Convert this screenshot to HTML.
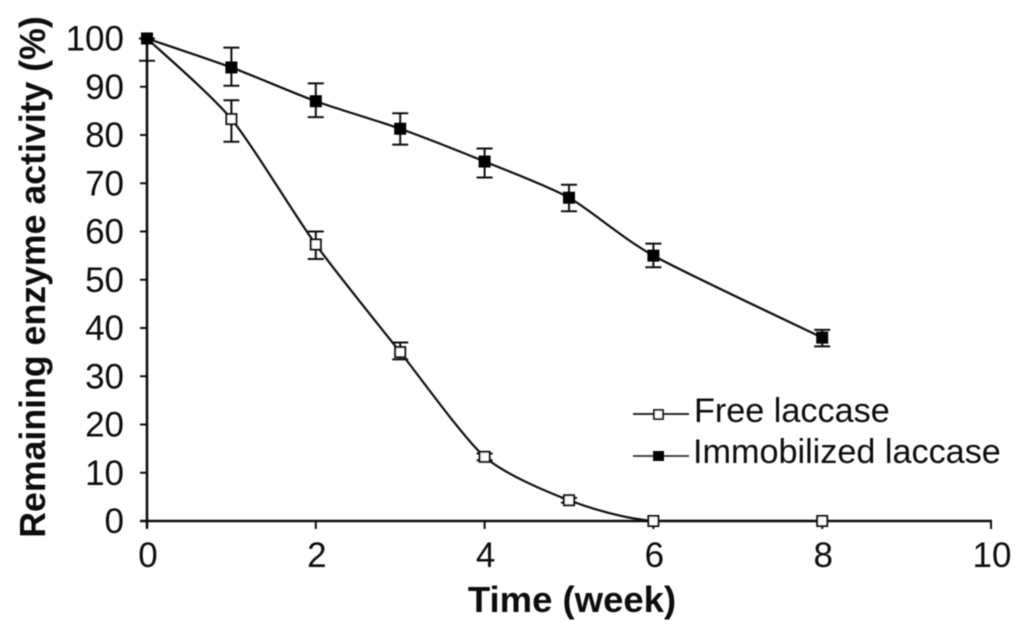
<!DOCTYPE html>
<html>
<head>
<meta charset="utf-8">
<style>
html,body{margin:0;padding:0;background:#fff;width:1024px;height:628px;overflow:hidden}
svg{display:block}
text{font-family:"Liberation Sans",sans-serif;fill:#0c0c0c}
</style>
</head>
<body>
<svg id="chart" width="1024" height="628" viewBox="0 0 1024 628" xmlns="http://www.w3.org/2000/svg">
<defs><filter id="soft" x="-5%" y="-5%" width="110%" height="110%"><feGaussianBlur stdDeviation="0.55"/></filter></defs>
<g id="root" filter="url(#soft)">
<text transform="translate(45,277) rotate(-90)" text-anchor="middle" font-size="35.7" font-weight="bold">Remaining enzyme activity (%)</text>
<text x="572" y="612" text-anchor="middle" font-size="36.5" font-weight="bold">Time (week)</text>
<g id="plot"></g>
<g>
<g>
<line x1="633" x2="689" y1="414" y2="414" stroke="#111" stroke-width="1.8"/>
<rect x="654" y="410" width="9" height="9" fill="#fff" stroke="#111" stroke-width="1.8"/>
<text x="694" y="422" font-size="34.2">Free laccase</text>
</g>
<g>
<line x1="633" x2="689" y1="456" y2="456" stroke="#333" stroke-width="1.8"/>
<rect x="653" y="451" width="11" height="10" fill="#000"/>
<text x="693" y="463" font-size="34.2">Immobilized laccase</text>
</g>
</g>
</g>
</svg>
<script>
const xTickLabels = [0, 2, 4, 6, 8, 10];
const yTickLabels = [0, 10, 20, 30, 40, 50, 60, 70, 80, 90, 100];
const weeks = [0, 1, 2, 3, 4, 5, 6, 8];
const freeValues = [100, 83.3, 57.3, 35, 13.3, 4.3, 0, 0];
const freeUpper = [100, 87.2, 60, 37, 14, 4.8, 0.3, 0.3];
const freeLower = [100, 78.6, 54.3, 33.5, 12.6, 3.8, 0, 0];
const immobilizedValues = [100, 94, 87, 81.3, 74.5, 67, 55, 38];
const immobilizedUpper = [100, 98.1, 90.7, 84.5, 77.2, 69.7, 57.5, 39.6];
const immobilizedLower = [95.4, 90.2, 83.7, 78, 71.2, 64.2, 52.6, 36.2];

const NS = 'http://www.w3.org/2000/svg';
const plot = document.getElementById('plot');
function xScale(v) { return 147 + v * 84.4; }
function yScale(v) { return 521 - v * 4.825; }
function make(tag, attrs, parent) {
  const el = document.createElementNS(NS, tag);
  for (const k in attrs) el.setAttribute(k, attrs[k]);
  (parent || plot).appendChild(el);
  return el;
}
function smoothPath(xs, ys) {
  const pts = xs.map((x, i) => [xScale(x), yScale(ys[i])]);
  let d = 'M' + pts[0][0] + ' ' + pts[0][1];
  for (let i = 0; i < pts.length - 1; i++) {
    const p0 = pts[Math.max(i - 1, 0)], p1 = pts[i], p2 = pts[i + 1], p3 = pts[Math.min(i + 2, pts.length - 1)];
    const t = 0.12;
    let c1y = p1[1] + (p2[1] - p0[1]) * t;
    let c2y = p2[1] - (p3[1] - p1[1]) * t;
    const base = yScale(0);
    c1y = Math.min(c1y, base);
    c2y = Math.min(c2y, base);
    d += ' C' + (p1[0] + (p2[0] - p0[0]) * t) + ' ' + c1y + ' ' + (p2[0] - (p3[0] - p1[0]) * t) + ' ' + c2y + ' ' + p2[0] + ' ' + p2[1];
  }
  return d;
}

const yAxis = make('line', {x1: xScale(0), x2: xScale(0), y1: yScale(100), y2: yScale(0) + 7, stroke: '#111', 'stroke-width': 2.6});


const xAxis = make('line', {x1: xScale(0) - 7, x2: xScale(10) + 1, y1: yScale(0), y2: yScale(0), stroke: '#111', 'stroke-width': 2.6});



yTickLabels.forEach(function (v) {
  const tick = make('line', {x1: xScale(0) - 7, x2: xScale(0), y1: yScale(v), y2: yScale(v), stroke: '#111', 'stroke-width': 2});
  
  
  const label = make('text', {x: 124, y: yScale(v) + 12, 'text-anchor': 'end', 'font-size': 35});
  
  
  label.textContent = v;
});
xTickLabels.forEach(function (v) {
  const tick = make('line', {x1: xScale(v), x2: xScale(v), y1: yScale(0), y2: yScale(0) + 8, stroke: '#111', 'stroke-width': 2});
  
  
  const label = make('text', {x: xScale(v) + 1, y: 567, 'text-anchor': 'middle', 'font-size': 35});
  
  
  label.textContent = v;
});

function drawSeries(name, values, upper, lower, filled) {
  const line = make('path', {d: smoothPath(weeks, values), fill: 'none', stroke: '#111', 'stroke-width': 2.2});
  
  
  weeks.forEach(function (w, i) {
    const x = xScale(w);
    const yTop = yScale(upper[i]);
    const yBot = yScale(lower[i]);
    if (upper[i] - lower[i] > 0.5) {
      const err = make('path', {
        d: 'M' + x + ' ' + yTop + 'V' + yBot + 'M' + (x - 8) + ' ' + yTop + 'H' + (x + 8) + 'M' + (x - 8) + ' ' + yBot + 'H' + (x + 8),
        fill: 'none', stroke: '#111', 'stroke-width': 2
      });
      
      
    }
  });
  weeks.forEach(function (w, i) {
    const x = xScale(w);
    const y = yScale(values[i]);
    const attrs = filled
      ? {x: x - 6, y: y - 6, width: 12, height: 12, fill: '#000'}
      : {x: x - 5, y: y - 5, width: 10, height: 10, fill: '#fff', stroke: '#111', 'stroke-width': 2};
    const marker = make('rect', attrs);
    
    
  });
}
drawSeries('free-laccase', freeValues, freeUpper, freeLower, false);
drawSeries('immobilized-laccase', immobilizedValues, immobilizedUpper, immobilizedLower, true);
</script>
</body>
</html>
